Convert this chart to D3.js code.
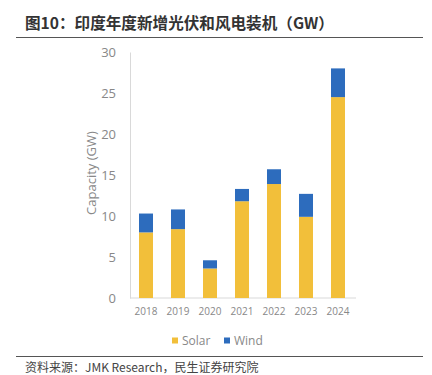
<!DOCTYPE html>
<html><head><meta charset="utf-8">
<script src="https://cdn.jsdelivr.net/npm/d3@7"></script>
<style>body{margin:0;background:#fff;}svg{display:block;}</style>
</head><body>
<svg id="c" width="432" height="375"></svg>
<script>
const years = ["2018","2019","2020","2021","2022","2023","2024"];
const solar = [8.0, 8.4, 3.6, 11.8, 13.9, 9.9, 24.5];
const wind  = [2.3, 2.4, 1.0, 1.5, 1.8, 2.8, 3.5];
const yTicks = [0,5,10,15,20,25,30];
const seriesNames = ["Solar","Wind"];
const colors = ["#f2bf3a","#2d6cbd"];

const svg = d3.select("#c");
const font = "'Noto Sans CJK SC','Noto Sans',sans-serif";

// title
svg.append("text").attr("x",25).attr("y",29).attr("font-family",font)
  .attr("font-size",15.6).attr("font-weight","bold").attr("fill","#333")
  .text("图10：印度年度新增光伏和风电装机（GW）");
svg.append("line").attr("x1",16).attr("x2",423).attr("y1",37.5).attr("y2",37.5)
  .attr("stroke","#555").attr("stroke-width",1.2);

const x = d3.scaleBand().domain(years).range([130,354]).paddingInner(0.5625).paddingOuter(0.28125);
const y = d3.scaleLinear().domain([0,30]).range([298,52]);

const gy = svg.append("g").attr("transform","translate(130,0)")
  .call(d3.axisLeft(y).tickValues(yTicks).tickSize(0).tickPadding(14));
gy.select(".domain").attr("stroke","#d9d9d9");
gy.selectAll("text").attr("font-family","'Open Sans',sans-serif").attr("font-size",13).attr("fill","#888");

const gx = svg.append("g").attr("transform","translate(0,298)")
  .call(d3.axisBottom(x).tickSize(0).tickPadding(10));
gx.select(".domain").attr("stroke","#d9d9d9").attr("d","M130,0H356");
gx.selectAll("text").attr("font-family","'Open Sans',sans-serif").attr("font-size",10).attr("fill","#888");

const rows = years.map((yr,i)=>({year:yr, Solar:solar[i], Wind:wind[i]}));
const stack = d3.stack().keys(seriesNames)(rows);
svg.append("g").selectAll("g").data(stack).join("g")
  .attr("fill",(d,i)=>colors[i])
  .selectAll("rect").data(d=>d).join("rect")
  .attr("x",d=>x(d.data.year)).attr("width",x.bandwidth())
  .attr("y",d=>y(d[1])).attr("height",d=>y(d[0])-y(d[1]));

svg.append("text").attr("transform","translate(96,173) rotate(-90)")
  .attr("text-anchor","middle").attr("font-family","'Open Sans',sans-serif")
  .attr("font-size",13).attr("fill","#888").text("Capacity (GW)");

const lg = svg.append("g");
const lx = [172,224];
seriesNames.forEach((n,i)=>{
  lg.append("rect").attr("x",lx[i]).attr("y",337.5).attr("width",6).attr("height",6).attr("fill",colors[i]);
  lg.append("text").attr("x",lx[i]+10).attr("y",345).attr("font-family","'Open Sans',sans-serif")
    .attr("font-size",12).attr("fill","#888").text(n);
});

svg.append("line").attr("x1",16).attr("x2",423).attr("y1",356.5).attr("y2",356.5)
  .attr("stroke","#555").attr("stroke-width",1.2);
svg.append("text").attr("x",25).attr("y",372).attr("font-family",font)
  .attr("font-size",12).attr("fill","#444").text("资料来源：JMK Research，民生证券研究院");
</script>
</body></html>
